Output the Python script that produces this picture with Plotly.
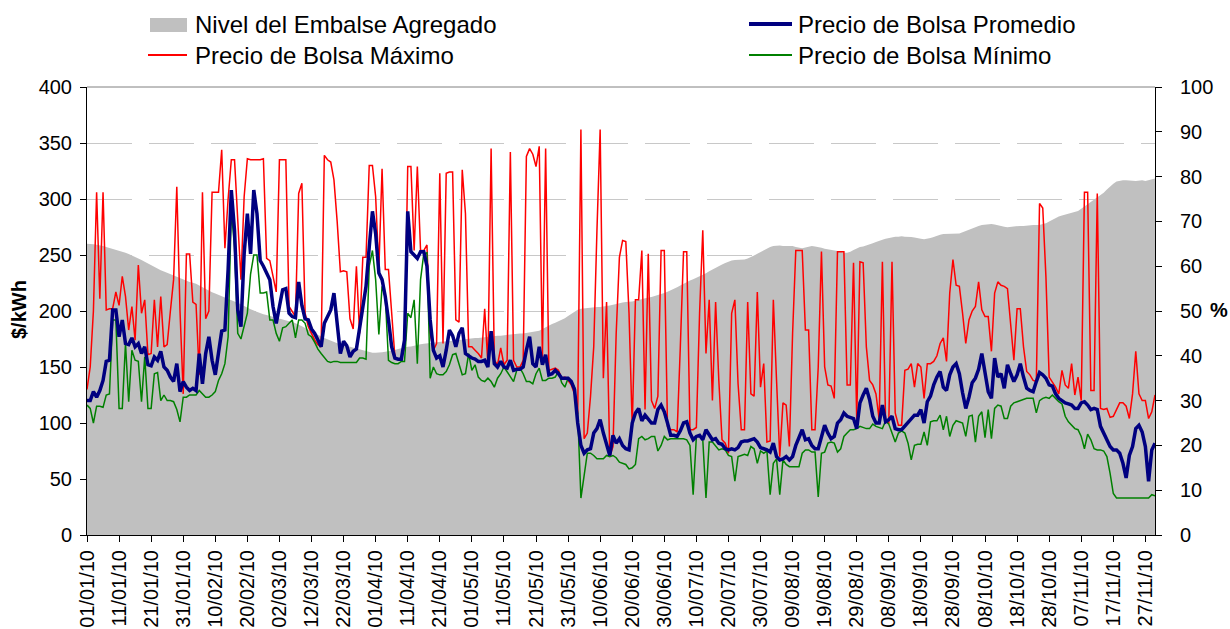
import pandas as pd
import plotly.graph_objects as go

start_date = "2010-01-01"
end_date = "2010-11-30"

# Nivel del Embalse Agregado (%), daily
nivel = [
    65.0, 65.0, 64.9, 64.8, 64.7, 64.5, 64.3, 64.1, 63.9, 63.7,
    63.4, 63.2, 63.0, 62.7, 62.4, 62.1, 61.8, 61.4, 61.0, 60.6,
    60.2, 59.9, 59.5, 59.1, 58.8, 58.5, 58.2, 57.9, 57.6, 57.3,
    57.0, 56.7, 56.5, 56.3, 56.1, 55.7, 55.3, 54.9, 54.5, 54.2,
    53.9, 53.6, 53.3, 53.0, 52.8, 52.5, 52.2, 51.9, 51.5, 51.1,
    50.7, 50.4, 50.1, 49.8, 49.5, 49.3, 49.1, 48.9, 48.6, 48.4,
    48.2, 48.0, 47.9, 47.7, 47.6, 47.3, 47.0, 46.6, 46.2, 45.8,
    45.4, 45.0, 44.6, 44.3, 44.0, 43.7, 43.4, 43.1, 42.8, 42.5,
    42.4, 42.2, 42.0, 41.8, 41.6, 41.4, 41.2, 41.0, 40.8, 40.7,
    40.7, 40.7, 40.8, 40.9, 41.0, 41.1, 41.3, 41.5, 41.7, 41.8,
    42.0, 42.1, 42.3, 42.4, 42.6, 42.7, 42.8, 42.9, 43.0, 43.1,
    43.1, 43.2, 43.2, 43.3, 43.3, 43.4, 43.5, 43.6, 43.7, 43.8,
    43.9, 44.0, 44.0, 44.1, 44.2, 44.3, 44.3, 44.4, 44.5, 44.5,
    44.6, 44.6, 44.7, 44.8, 44.9, 45.0, 45.0, 45.1, 45.2, 45.3,
    45.4, 45.6, 46.0, 46.4, 46.8, 47.1, 47.4, 47.7, 48.0, 48.4,
    48.9, 49.4, 49.9, 50.3, 50.5, 50.6, 50.6, 50.7, 50.8, 50.9,
    50.9, 51.0, 51.0, 51.2, 51.4, 51.6, 51.8, 51.9, 52.0, 52.0,
    52.1, 52.3, 52.5, 52.6, 52.8, 53.0, 53.1, 53.3, 53.5, 53.7,
    54.0, 54.3, 54.6, 54.9, 55.3, 55.7, 56.1, 56.5, 56.8, 57.1,
    57.4, 57.7, 58.0, 58.4, 58.9, 59.3, 59.7, 60.1, 60.4, 60.7,
    61.0, 61.3, 61.4, 61.4, 61.4, 61.5, 61.7, 62.0, 62.4, 62.8,
    63.2, 63.6, 64.0, 64.3, 64.5, 64.6, 64.6, 64.5, 64.5, 64.6,
    64.5, 64.3, 64.1, 64.0, 64.2, 64.4, 64.5, 64.4, 64.3, 64.1,
    63.9, 63.8, 63.7, 63.6, 63.4, 63.2, 63.0, 63.0, 63.2, 63.6,
    64.0, 64.3, 64.4, 64.6, 64.8, 65.1, 65.4, 65.7, 65.9, 66.1,
    66.3, 66.5, 66.6, 66.6, 66.7, 66.6, 66.6, 66.5, 66.4, 66.2,
    66.1, 66.0, 66.1, 66.3, 66.5, 66.8, 67.0, 67.2, 67.2, 67.2,
    67.2, 67.2, 67.3, 67.6, 67.9, 68.2, 68.4, 68.7, 69.0, 69.2,
    69.3, 69.4, 69.4, 69.3, 69.1, 68.9, 68.8, 68.7, 68.8, 68.9,
    69.0, 69.0, 69.0, 69.1, 69.2, 69.2, 69.2, 69.2, 69.4, 69.6,
    70.0, 70.4, 70.8, 71.1, 71.3, 71.5, 71.7, 71.8, 72.0, 72.3,
    72.8, 73.3, 73.8, 74.3, 74.8, 75.3, 75.8, 76.4, 77.1, 77.8,
    78.4, 78.9, 79.1, 79.2, 79.2, 79.2, 79.1, 79.0, 79.1, 79.2,
    79.0, 79.2, 79.4, 79.6,
]

# Precio de Bolsa Máximo ($/kWh), daily
precio_max = [
    130, 150, 200, 306, 211, 306, 201, 202, 202, 217,
    205, 231, 213, 183, 204, 174, 241, 198, 210, 161,
    162, 210, 168, 213, 168, 170, 200, 228, 311, 200,
    126, 251, 251, 208, 206, 143, 306, 193, 200, 306,
    306, 306, 344, 256, 300, 335, 335, 280, 228, 302,
    336, 335, 335, 335, 335, 336, 247, 245, 231, 217,
    335, 335, 335, 204, 199, 195, 305, 314, 198, 186,
    180, 174, 170, 168, 339, 335, 333, 317, 280, 235,
    236, 235, 193, 184, 240, 180, 248, 248, 330, 330,
    302, 237, 327, 237, 237, 195, 159, 157, 157, 168,
    329, 329, 254, 329, 254, 254, 259, 180, 165, 171,
    323, 171, 323, 324, 324, 192, 190, 326, 287, 168,
    168, 165, 162, 158, 202, 152, 345, 156, 152, 167,
    152, 156, 342, 156, 150, 150, 156, 338, 345, 340,
    329, 347, 159, 345, 147, 148, 149, 147, 140, 141,
    138, 134, 126, 108, 362, 86, 91, 124, 168, 272,
    362, 140, 208, 70, 79, 180, 248, 263, 262, 198,
    97, 210, 210, 254, 112, 251, 120, 113, 124, 254,
    254, 97, 94, 94, 92, 168, 253, 253, 94, 94,
    96, 198, 272, 162, 210, 120, 208, 138, 85, 82,
    73, 198, 210, 135, 94, 94, 208, 126, 124, 217,
    132, 153, 83, 84, 210, 138, 70, 118, 116, 79,
    180, 254, 254, 254, 183, 183, 94, 94, 150, 253,
    150, 134, 133, 122, 253, 253, 253, 134, 134, 243,
    103, 244, 243, 168, 138, 134, 126, 103, 244, 101,
    100, 244, 109, 98, 98, 147, 148, 153, 132, 153,
    150, 122, 153, 153, 155, 160, 171, 176, 155, 216,
    246, 223, 222, 198, 171, 192, 200, 204, 226, 201,
    195, 195, 164, 216, 226, 223, 222, 220, 186, 156,
    202, 202, 168, 146, 143, 138, 137, 296, 292, 230,
    141, 137, 132, 126, 147, 134, 131, 153, 125, 141,
    120, 306, 306, 129, 129, 305, 113, 112, 113, 105,
    106, 112, 118, 118, 115, 104, 126, 164, 126, 120,
    120, 104, 110, 125,
]

# Precio de Bolsa Promedio ($/kWh), daily
precio_prom = [
    120, 120, 128, 123, 129, 138, 155, 156, 201, 201,
    177, 192, 171, 170, 176, 168, 171, 162, 168, 152,
    151, 159, 156, 164, 150, 147, 141, 137, 153, 128,
    137, 132, 129, 131, 129, 162, 135, 162, 177, 156,
    143, 162, 182, 183, 237, 308, 272, 201, 186, 251,
    287, 251, 308, 287, 245, 240, 234, 228, 204, 189,
    204, 219, 220, 198, 195, 194, 226, 205, 193, 192,
    184, 180, 174, 168, 189, 195, 201, 216, 192, 162,
    173, 169, 159, 164, 166, 186, 201, 222, 257, 289,
    269, 234, 228, 213, 192, 168, 158, 157, 157, 174,
    289, 253, 250, 247, 253, 253, 240, 192, 165, 158,
    160, 150, 165, 183, 178, 168, 180, 185, 162, 160,
    158, 157, 155, 155, 156, 150, 182, 153, 150, 155,
    150, 149, 156, 147, 148, 148, 150, 165, 177, 153,
    150, 168, 152, 161, 143, 144, 147, 144, 140, 140,
    140, 137, 130, 100, 80, 73, 76, 77, 91, 95,
    103, 91, 82, 71, 89, 82, 86, 80, 77, 76,
    100, 109, 113, 102, 107, 104, 100, 100, 112, 116,
    110, 100, 89, 89, 88, 93, 100, 101, 91, 85,
    88, 89, 85, 94, 89, 85, 86, 82, 81, 77,
    76, 77, 76, 78, 83, 84, 84, 85, 86, 83,
    78, 77, 76, 74, 82, 70, 67, 68, 70, 67,
    70, 80, 88, 94, 85, 86, 80, 77, 77, 88,
    98, 91, 86, 88, 100, 103, 109, 106, 105, 104,
    95, 118, 125, 131, 121, 106, 100, 100, 116, 101,
    103, 106, 95, 94, 94, 97, 100, 104, 107, 107,
    112, 100, 119, 124, 134, 141, 146, 132, 129, 143,
    150, 153, 144, 127, 113, 123, 136, 140, 148, 162,
    146, 128, 122, 158, 141, 144, 131, 152, 144, 137,
    143, 153, 141, 131, 129, 128, 137, 145, 143, 140,
    134, 133, 126, 122, 120, 118, 117, 116, 113, 113,
    118, 119, 116, 112, 113, 112, 97, 91, 86, 79,
    76, 76, 73, 64, 51, 71, 79, 95, 98, 92,
    79, 48, 76, 82,
]

# Precio de Bolsa Mínimo ($/kWh), daily
precio_min = [
    116, 113, 100, 115, 115, 114, 125, 126, 192, 192,
    113, 113, 171, 119, 165, 156, 155, 119, 159, 113,
    113, 144, 145, 120, 125, 120, 120, 119, 112, 101,
    123, 123, 125, 125, 125, 129, 126, 123, 123, 125,
    128, 138, 144, 153, 177, 290, 257, 180, 175, 186,
    198, 233, 250, 250, 216, 216, 217, 192, 192, 180,
    173, 185, 186, 189, 192, 176, 192, 192, 189, 179,
    177, 172, 166, 162, 158, 155, 154, 155, 155, 154,
    154, 154, 154, 154, 154, 158, 158, 157, 240, 254,
    228, 179, 222, 213, 156, 154, 153, 153, 155, 155,
    198, 194, 210, 153, 228, 251, 252, 140, 150, 144,
    143, 143, 146, 152, 161, 162, 153, 143, 144, 162,
    147, 152, 141, 138, 137, 140, 137, 132, 140, 144,
    150, 146, 141, 137, 147, 149, 144, 137, 137, 135,
    144, 149, 138, 138, 140, 140, 141, 146, 136, 132,
    140, 137, 132, 108, 33, 55, 73, 73, 71, 68,
    68, 68, 71, 70, 71, 69, 65, 64, 63, 59,
    60, 63, 86, 88, 85, 86, 88, 88, 75, 80,
    88, 85, 86, 86, 86, 86, 86, 85, 80, 36,
    88, 89, 85, 33, 83, 83, 79, 76, 77, 76,
    71, 70, 48, 70, 71, 72, 71, 79, 77, 64,
    75, 73, 75, 36, 64, 68, 36, 67, 63, 61,
    61, 61, 61, 73, 76, 76, 74, 74, 34, 73,
    74, 82, 83, 82, 74, 77, 88, 91, 94, 94,
    95, 97, 96, 95, 95, 99, 97, 96, 95, 102,
    99, 91, 83, 91, 93, 91, 82, 67, 80, 81,
    81, 92, 80, 101, 102, 102, 107, 94, 106, 88,
    98, 102, 101, 100, 88, 106, 107, 83, 106, 110,
    87, 112, 86, 113, 116, 115, 104, 104, 115, 118,
    119, 120, 121, 122, 122, 122, 109, 120, 122, 123,
    122, 125, 122, 119, 117, 106, 101, 98, 95, 94,
    88, 77, 90, 85, 77, 76, 76, 75, 70, 55,
    37, 33, 33, 33, 33, 33, 33, 33, 33, 33,
    33, 33, 36, 35,
]

series_names = ["Nivel del Embalse Agregado", "Precio de Bolsa Promedio",
                "Precio de Bolsa Máximo", "Precio de Bolsa Mínimo"]
series_colors = ["#C0C0C0", "#000080", "#FF0000", "#008000"]


def fechas(values):
    return pd.date_range(start_date, periods=len(values), freq="D")


FONT = "Liberation Sans, Arial, sans-serif"

fig = go.Figure()
fig.add_trace(go.Scatter(
    x=fechas(nivel), y=nivel, yaxis="y", mode="lines", fill="tozeroy",
    line=dict(width=0, color=series_colors[0]), fillcolor=series_colors[0],
    name=series_names[0], hoverinfo="skip"))
fig.add_trace(go.Scatter(
    x=fechas(precio_max), y=precio_max, yaxis="y2", mode="lines",
    line=dict(color=series_colors[2], width=1.5), name=series_names[2]))
fig.add_trace(go.Scatter(
    x=fechas(precio_min), y=precio_min, yaxis="y2", mode="lines",
    line=dict(color=series_colors[3], width=1.5), name=series_names[3]))
fig.add_trace(go.Scatter(
    x=fechas(precio_prom), y=precio_prom, yaxis="y2", mode="lines",
    line=dict(color=series_colors[1], width=3.5), name=series_names[1]))

# plot area in pixels: x 87..1155, y 87..535
L, R, T, B = 87, 1155, 87, 535
W, H = R - L, B - T


def px(x):
    return (x - L) / W


def py(y):
    return (B - y) / H


shapes = [
    dict(type="line", xref="paper", yref="paper", x0=0, x1=1, y0=1, y1=1,
         line=dict(color="#808080", width=1)),
    # legend symbols
    dict(type="rect", xref="paper", yref="paper", x0=px(150), x1=px(187),
         y0=py(32), y1=py(18), fillcolor=series_colors[0], line=dict(width=0)),
    dict(type="line", xref="paper", yref="paper", x0=px(148), x1=px(187),
         y0=py(55), y1=py(55), line=dict(color=series_colors[2], width=2)),
    dict(type="line", xref="paper", yref="paper", x0=px(749), x1=px(792),
         y0=py(24), y1=py(24), line=dict(color=series_colors[1], width=4)),
    dict(type="line", xref="paper", yref="paper", x0=px(749), x1=px(792),
         y0=py(55), y1=py(55), line=dict(color=series_colors[3], width=2)),
]

annotations = [
    dict(text=series_names[0], x=px(193), y=py(24), xanchor="left", yanchor="middle"),
    dict(text=series_names[2], x=px(193), y=py(55.5), xanchor="left", yanchor="middle"),
    dict(text=series_names[1], x=px(796), y=py(24), xanchor="left", yanchor="middle"),
    dict(text=series_names[3], x=px(796), y=py(55.5), xanchor="left", yanchor="middle"),
]
for a in annotations:
    a.update(xref="paper", yref="paper", showarrow=False,
             font=dict(family=FONT, size=24, color="black"))

annotations += [
    dict(text="<b>$/kWh</b>", x=px(19), y=py(310), xref="paper", yref="paper",
         showarrow=False, textangle=-90, font=dict(family=FONT, size=20, color="black"),
         xanchor="center", yanchor="middle"),
    dict(text="<b>%</b>", x=px(1219), y=py(310), xref="paper", yref="paper",
         showarrow=False, font=dict(family=FONT, size=20, color="black"),
         xanchor="center", yanchor="middle"),
]

fig.update_layout(
    width=1230, height=629, template="none",
    margin=dict(l=L, r=1230 - R, t=T, b=629 - B, pad=0, autoexpand=False),
    paper_bgcolor="white", plot_bgcolor="white",
    showlegend=False,
    font=dict(family=FONT, size=20, color="black"),
    xaxis=dict(
        type="date", range=[start_date, end_date], tick0=start_date,
        dtick=10 * 86400000, tickformat="%d/%m/%y", tickangle=-90,
        ticks="outside", ticklen=6, tickcolor="black", tickwidth=1,
        showline=True, linecolor="black", linewidth=1, showgrid=False,
        zeroline=False, automargin=False, tickfont=dict(family=FONT, size=20),
    ),
    yaxis=dict(
        side="right", range=[0, 100], dtick=10, ticks="outside", ticklen=6,
        tickcolor="black", showline=True, linecolor="black", linewidth=1,
        showgrid=False, zeroline=False, automargin=False,
        tickfont=dict(family=FONT, size=20), ticklabelstandoff=14,
    ),
    yaxis2=dict(
        side="left", overlaying="y", range=[0, 400], dtick=50, ticks="outside",
        ticklen=6, tickcolor="black", showline=True, linecolor="black", linewidth=1,
        showgrid=True, gridcolor="#C8C8C8", gridwidth=1, griddash="45px,17px",
        zeroline=False, automargin=False,
        tickfont=dict(family=FONT, size=20), ticklabelstandoff=4,
    ),
    shapes=shapes,
    annotations=annotations,
)

fig.write_html("out.html", config={"displayModeBar": False},
               post_script="document.body.style.margin='0px';")
